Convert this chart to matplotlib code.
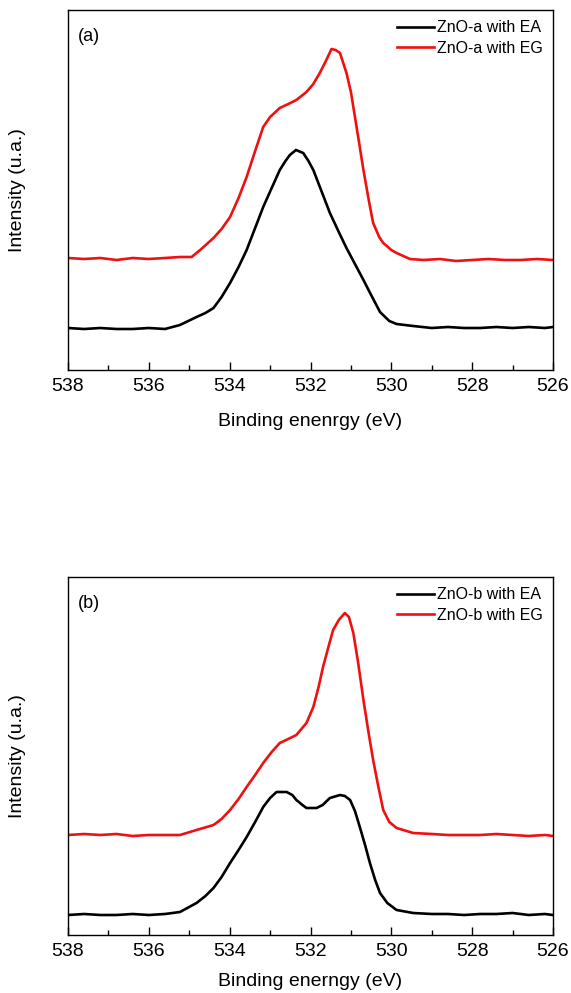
import matplotlib
matplotlib.use("Agg")
import matplotlib.pyplot as plt
from matplotlib.ticker import MultipleLocator

plt.rcParams['font.family'] = ['Liberation Sans', 'DejaVu Sans']

# ---- Panel (a) data (binding energy eV, intensity arb.) ----
a_ea_x = [538.0, 537.6, 537.2, 536.8, 536.4, 536.0, 535.6, 535.23, 534.82, 534.6, 534.4, 534.2, 533.99,
          533.78, 533.58, 533.37, 533.17, 532.96, 532.76, 532.62, 532.51, 532.36, 532.18, 532.05, 531.93,
          531.72, 531.52, 531.3, 531.11, 530.9, 530.69, 530.5, 530.28, 530.05, 529.87, 529.46, 529.0, 528.6,
          528.2, 527.8, 527.4, 527.0, 526.6, 526.2, 526.0]
a_ea_y = [42, 41, 42, 41, 41, 42, 41, 45, 53, 57, 62, 73, 87,
          103, 120, 142, 163, 182, 200, 209, 215, 220, 217, 209, 200,
          178, 157, 138, 122, 106, 90, 75, 58, 49, 46, 44, 42, 43, 42, 42, 43, 42, 43, 42, 43]
a_eg_x = [538.0, 537.6, 537.2, 536.8, 536.4, 536.0, 535.6, 535.23, 534.94, 534.73, 534.4, 534.2, 533.99,
          533.78, 533.58, 533.37, 533.17, 533.0, 532.76, 532.55, 532.35, 532.1, 531.93, 531.77, 531.62,
          531.48, 531.38, 531.27, 531.11, 531.0, 530.94, 530.8, 530.69, 530.55, 530.45, 530.3, 530.2,
          530.0, 529.87, 529.54, 529.2, 528.8, 528.4, 528.0, 527.6, 527.2, 526.8, 526.4, 526.0]
a_eg_y = [112, 111, 112, 110, 112, 111, 112, 113, 113, 120, 132, 141, 153,
          172, 193, 219, 243, 253, 262, 266, 270, 278, 286, 297, 309,
          321, 320, 317, 297, 278, 263, 228, 200, 168, 147, 133, 127,
          120, 117, 111, 110, 111, 109, 110, 111, 110, 110, 111, 110]

# ---- Panel (b) data ----
b_ea_x = [538.0, 537.6, 537.2, 536.8, 536.4, 536.0, 535.6, 535.23, 534.82, 534.6, 534.4, 534.2, 533.99,
          533.78, 533.58, 533.37, 533.17, 533.0, 532.84, 532.59, 532.45, 532.35, 532.2, 532.1, 531.85, 531.7,
          531.52, 531.27, 531.15, 531.02, 530.9, 530.78, 530.65, 530.53, 530.4, 530.28, 530.1, 529.87, 529.46,
          529.0, 528.6, 528.2, 527.8, 527.4, 527.0, 526.6, 526.2, 526.0]
b_ea_y = [20, 21, 20, 20, 21, 20, 21, 23, 32, 39, 47, 58, 72,
          85, 98, 113, 128, 137, 143, 143, 140, 135, 130, 127, 127, 130,
          137, 140, 139, 135, 124, 108, 90, 72, 55, 42, 32, 25, 22,
          21, 21, 20, 21, 21, 22, 20, 21, 20]
b_eg_x = [538.0, 537.6, 537.2, 536.8, 536.4, 536.0, 535.6, 535.23, 534.82, 534.4, 534.2, 533.99, 533.78,
          533.58, 533.37, 533.17, 532.96, 532.76, 532.55, 532.35, 532.1, 531.93, 531.8, 531.69, 531.55, 531.44,
          531.3, 531.15, 531.05, 530.94, 530.82, 530.69, 530.57, 530.45, 530.32, 530.2, 530.05, 529.87,
          529.46, 529.0, 528.6, 528.2, 527.8, 527.4, 527.0, 526.6, 526.2, 526.0]
b_eg_y = [100, 101, 100, 101, 99, 100, 100, 100, 105, 110, 116, 125, 136,
          148, 160, 172, 183, 192, 196, 200, 212, 228, 248, 268, 289, 305,
          315, 322, 318, 302, 272, 235, 204, 175, 148, 125, 113, 107,
          102, 101, 100, 100, 100, 101, 100, 99, 100, 99]

legend_a = ["ZnO-a with EA", "ZnO-a with EG"]
legend_b = ["ZnO-b with EA", "ZnO-b with EG"]
panel_tags = ["(a)", "(b)"]
xlabels = ["Binding enenrgy (eV)", "Binding enerngy (eV)"]
ylabel = "Intensity (u.a.)"

W, H = 571, 993
fig = plt.figure(figsize=(W / 100, H / 100), dpi=100)

def make_ax(top_px, bot_px):
    left, right = 68, 553
    return fig.add_axes([left / W, 1 - bot_px / H, (right - left) / W, (bot_px - top_px) / H])

ax1 = make_ax(10, 370)
ax2 = make_ax(577, 935)

panels = [
    (ax1, a_ea_x, a_ea_y, a_eg_x, a_eg_y, legend_a, (0, 360), 13),
    (ax2, b_ea_x, b_ea_y, b_eg_x, b_eg_y, legend_b, (0, 358), 9),
]

for i, (ax, x1, y1, x2, y2, leg, ylim, lpad) in enumerate(panels):
    ax.plot(x1, y1, color='black', lw=1.9, label=leg[0])
    ax.plot(x2, y2, color='#ee1111', lw=1.9, label=leg[1])
    ax.set_xlim(538, 526)
    ax.set_ylim(*ylim)
    ax.xaxis.set_major_locator(MultipleLocator(2))
    ax.xaxis.set_minor_locator(MultipleLocator(1))
    ax.tick_params(axis='x', which='major', direction='in', length=6, width=1, labelsize=14, pad=6)
    ax.tick_params(axis='x', which='minor', direction='in', length=3.5, width=1)
    ax.set_yticks([])
    for s in ax.spines.values():
        s.set_linewidth(1.0)
    ax.set_xlabel(xlabels[i], fontsize=14, labelpad=lpad)
    ax.set_ylabel(ylabel, fontsize=14, labelpad=30)
    ax.text(0.02, 0.95, panel_tags[i], transform=ax.transAxes, fontsize=13, va='top', ha='left')
    ax.legend(loc='upper right', frameon=False, fontsize=11.5, handlelength=2.3, handletextpad=0.2,
              labelspacing=0.35, borderaxespad=0.25, bbox_to_anchor=(1.0, 1.0))

fig.savefig("out.png", dpi=100)
